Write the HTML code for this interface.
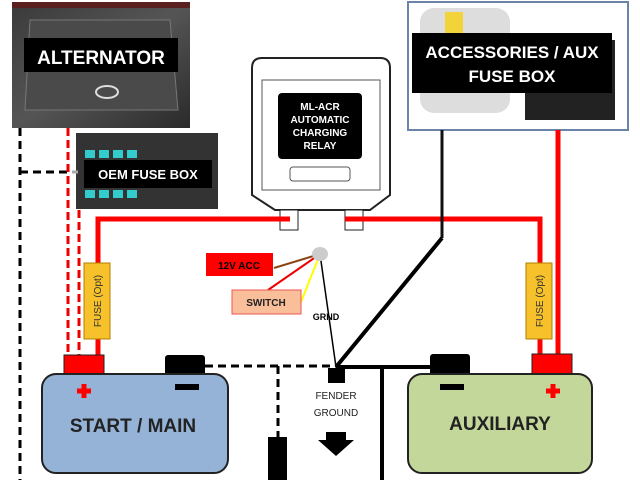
<!DOCTYPE html>
<html><head><style>body{margin:0;background:#fff}svg{display:block;font-family:"Liberation Sans",sans-serif;font-weight:bold}</style></head><body>
<svg width="640" height="480" viewBox="0 0 640 480">
<defs>
<linearGradient id="eng" x1="0" y1="0" x2="1" y2="1"><stop offset="0" stop-color="#3a3a3a"/><stop offset=".5" stop-color="#555"/><stop offset="1" stop-color="#2a2a2a"/></linearGradient>
</defs>
<!-- alternator photo -->
<rect x="12" y="2" width="178" height="126" fill="url(#eng)"/>
<rect x="12" y="2" width="178" height="6" fill="#5a2020"/>
<path d="M30 20 L170 20 L178 110 L25 110Z" fill="#4a4a4a" stroke="#777" stroke-width="1"/>
<ellipse cx="107" cy="92" rx="11" ry="6" fill="none" stroke="#ddd" stroke-width="2"/>
<rect x="24" y="38" width="154" height="34" fill="#000"/>
<text x="101" y="64" font-size="19" fill="#fff" text-anchor="middle">ALTERNATOR</text>
<!-- oem fuse box -->
<rect x="76" y="133" width="142" height="76" fill="#333"/>
<g fill="#3cc">
<rect x="85" y="150" width="10" height="8"/><rect x="99" y="150" width="10" height="8"/><rect x="113" y="150" width="10" height="8"/><rect x="127" y="150" width="10" height="8"/>
<rect x="85" y="190" width="10" height="8"/><rect x="99" y="190" width="10" height="8"/><rect x="113" y="190" width="10" height="8"/><rect x="127" y="190" width="10" height="8"/>
</g>
<rect x="84" y="160" width="128" height="28" fill="#000"/>
<text x="148" y="179" font-size="13" fill="#fff" text-anchor="middle">OEM FUSE BOX</text>
<!-- accessories box -->
<rect x="408" y="2" width="220" height="128" fill="#fff" stroke="#6c84a8" stroke-width="2"/>
<rect x="420" y="8" width="90" height="105" rx="14" fill="#ddd"/>
<rect x="445" y="12" width="18" height="30" fill="#f2d43a"/>
<rect x="525" y="40" width="90" height="80" fill="#222"/>
<rect x="412" y="33" width="200" height="60" fill="#000"/>
<text x="512" y="58" font-size="17" fill="#fff" text-anchor="middle">ACCESSORIES / AUX</text>
<text x="512" y="82" font-size="17" fill="#fff" text-anchor="middle">FUSE BOX</text>
<!-- relay -->
<path d="M252 68 Q252 58 262 58 L380 58 Q390 58 390 68 L390 195 L370 210 L275 210 L252 195Z" fill="#fff" stroke="#222" stroke-width="2"/>
<rect x="262" y="80" width="118" height="110" fill="none" stroke="#555" stroke-width="1"/>
<rect x="278" y="93" width="84" height="66" rx="4" fill="#000"/>
<text font-size="10" fill="#fff" text-anchor="middle"><tspan x="320" y="110">ML-ACR</tspan><tspan x="320" y="123">AUTOMATIC</tspan><tspan x="320" y="136">CHARGING</tspan><tspan x="320" y="149">RELAY</tspan></text>
<rect x="290" y="167" width="60" height="14" rx="3" fill="none" stroke="#555"/>
<rect x="280" y="210" width="18" height="20" fill="#fff" stroke="#222"/><rect x="345" y="210" width="18" height="20" fill="#fff" stroke="#222"/>
<!-- dashed black -->
<path d="M20 128 V480 M20 172 H72" stroke="#000" stroke-width="3" stroke-dasharray="8,5" fill="none"/>
<path d="M72 172 H78" stroke="#aaa" stroke-width="3"/>
<path d="M205 366 H336 M278 366 V437" stroke="#000" stroke-width="3" stroke-dasharray="8,5" fill="none"/>
<!-- dashed red -->
<path d="M68 128 V356 M79 210 V356" stroke="#e00" stroke-width="3" stroke-dasharray="8,4" fill="none"/>
<!-- red solid -->
<path d="M98 356 V219 H290 M345 219 H540 V356 M558 130 V356" stroke="#f00" stroke-width="5" fill="none"/>
<!-- fuses -->
<rect x="84" y="263" width="26" height="76" fill="#f6c12a" stroke="#b08000"/>
<text transform="translate(101,301) rotate(-90)" font-size="10" font-weight="normal" text-anchor="middle" fill="#333">FUSE (Opt)</text>
<rect x="526" y="263" width="26" height="76" fill="#f6c12a" stroke="#b08000"/>
<text transform="translate(543,301) rotate(-90)" font-size="10" font-weight="normal" text-anchor="middle" fill="#333">FUSE (Opt)</text>
<!-- black wires -->
<path d="M442 130 V238" stroke="#111" stroke-width="3"/>
<path d="M442 238 L336 367 M336 367 H432 M382 367 V480" stroke="#000" stroke-width="4" fill="none"/>
<path d="M320 254 L336 367" stroke="#000" stroke-width="1.5"/>
<!-- control wires -->
<path d="M320 254 L274 268" stroke="#8b4513" stroke-width="2"/>
<path d="M320 254 L268 290" stroke="#e00" stroke-width="2"/>
<path d="M320 254 L301 302" stroke="#ff0" stroke-width="2"/>
<ellipse cx="320" cy="254" rx="8" ry="7" fill="#ccc"/>
<rect x="206" y="253" width="67" height="23" fill="#f00"/>
<text x="239" y="269" font-size="10" text-anchor="middle" fill="#000">12V ACC</text>
<rect x="232" y="290" width="69" height="24" fill="#f8bf9a" stroke="#e55"/>
<text x="266" y="306" font-size="10" text-anchor="middle" fill="#222">SWITCH</text>
<text x="326" y="320" font-size="9" text-anchor="middle" fill="#000">GRND</text>
<!-- fender ground -->
<rect x="328" y="368" width="17" height="15" fill="#000"/>
<text x="336" y="399" font-size="10" text-anchor="middle" font-weight="normal" fill="#222">FENDER</text>
<text x="336" y="416" font-size="10" text-anchor="middle" font-weight="normal" fill="#222">GROUND</text>
<path d="M326 432 H346 V440 H354 L336 456 L318 440 H326Z" fill="#000"/>
<rect x="268" y="437" width="19" height="45" fill="#000"/>
<text x="277" y="489" font-size="10" text-anchor="middle">FRAME</text>
<!-- batteries -->
<rect x="64" y="355" width="40" height="22" fill="#f00" stroke="#222"/>
<rect x="165" y="355" width="40" height="22" rx="3" fill="#000"/>
<rect x="42" y="374" width="186" height="99" rx="14" fill="#95b3d7" stroke="#222" stroke-width="2"/>
<path d="M84 384 V398 M77 391 H91" stroke="#f00" stroke-width="5"/>
<rect x="175" y="384" width="24" height="6" fill="#000"/>
<text x="133" y="432" font-size="19" text-anchor="middle" fill="#222">START / MAIN</text>
<rect x="430" y="354" width="40" height="22" rx="3" fill="#000"/>
<rect x="532" y="354" width="40" height="22" fill="#f00" stroke="#222"/>
<rect x="408" y="374" width="184" height="99" rx="14" fill="#c4d79b" stroke="#222" stroke-width="2"/>
<rect x="440" y="384" width="24" height="6" fill="#000"/>
<path d="M553 384 V398 M546 391 H560" stroke="#f00" stroke-width="5"/>
<text x="500" y="430" font-size="19" text-anchor="middle" fill="#222">AUXILIARY</text>
</svg>
</body></html>
